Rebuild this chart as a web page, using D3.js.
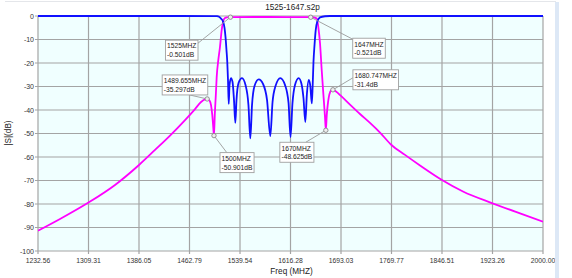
<!DOCTYPE html>
<html>
<head>
<meta charset="utf-8">
<script src="https://cdn.jsdelivr.net/npm/d3@7"></script>
<style>
  body { margin: 0; background: #fff; }
  svg text { font-family: "Liberation Sans", Arial, sans-serif; }
</style>
</head>
<body>
<div id="chart"></div>
<script>
// tick labels
const xTicks = [1232.56, 1309.31, 1386.05, 1462.79, 1539.54, 1616.28, 1693.03, 1769.77, 1846.51, 1923.26, 2000.00];
const yTicks = [0, -10, -20, -30, -40, -50, -60, -70, -80, -90, -100];

// |S21| (magenta)
const s21Freq = [1232.56, 1266.0, 1309.3, 1349.6, 1386.05, 1410.4, 1433.2, 1456.0, 1471.2, 1480.3, 1486.4, 1489.655,
  1493.2, 1495.5, 1497.4, 1499.0, 1500, 1501.2, 1502.8, 1504.1, 1506.6, 1509.1, 1511.7, 1514.2, 1516.7, 1519.8, 1525,
  1540, 1560, 1585, 1610, 1635, 1647, 1656.1, 1658.5, 1661.1, 1663.7, 1666.1, 1668.7, 1670, 1671.4, 1672.8, 1674.5,
  1676.6, 1678.6, 1680.747, 1685.4, 1693.0, 1706.7, 1721.9, 1737.1, 1752.3, 1769.77, 1790.3, 1813.1, 1846.51, 1878.4,
  1923.26, 1965.1, 2000];
const s21dB = [-91.4, -86.4, -79.4, -71.9, -63.4, -57.0, -50.9, -44.3, -39.6, -36.6, -35.45, -35.297,
  -36.0, -37.9, -42.1, -47.7, -50.901, -42.1, -33.6, -26.0, -18.7, -13.2, -6.0, -2.1, -0.9, -0.6, -0.501,
  -0.46, -0.43, -0.42, -0.44, -0.48, -0.521, -1.0, -4.6, -11.5, -23.0, -32.8, -42.9, -48.625, -42.1, -37.9, -34.5,
  -32.3, -31.5, -31.4, -32.1, -34.0, -37.7, -41.7, -45.5, -49.6, -54.9, -59.1, -63.6, -69.8, -74.7,
  -79.7, -84.0, -87.5];

// |S11| (blue)
const s11Freq = [1232.56, 1400, 1500, 1504.6, 1507.6, 1510.7, 1513.7, 1516.0, 1517.5, 1519.0, 1520.2, 1521.3, 1522.4,
  1523.6, 1525.9, 1528.2, 1530.4, 1532.4, 1534.2, 1537.3, 1542.6, 1547.9, 1552.4, 1555.2, 1557.8, 1561.6, 1568.0,
  1574.5, 1580.6, 1585.6, 1589.0, 1593.5, 1600.8, 1608.0, 1613.3, 1616.3, 1619.3, 1623.1, 1628.7, 1633.0, 1636.0,
  1638.8, 1641.1, 1644.1, 1646.4, 1648.7, 1650.0, 1651.2, 1652.8, 1654.6, 1657.0, 1661.1, 1668.7, 1676.3, 1800, 2000];
const s11dB = [0, 0, -0.02, -0.08, -0.3, -1.1, -2.3, -5.1, -8.9, -14.5, -19.6, -27.2, -37.4,
  -29.4, -26.4, -28.1, -35.7, -45.5, -35.7, -28.5, -26.4, -29.4, -37.9, -52.1, -37.9, -29.8, -27.0,
  -28.9, -35.7, -51.1, -36.6, -29.8, -26.4, -29.4, -37.0, -51.5, -37.0, -29.4, -26.4, -28.9, -34.9,
  -45.1, -33.6, -27.2, -29.8, -37.2, -29.4, -19.6, -12.3, -6.0, -2.4, -0.6, -0.1, 0, 0, 0];

// markers
const markerFreq = [1525, 1647, 1489.655, 1680.747, 1500, 1670];
const markerDb = [-0.501, -0.521, -35.297, -31.4, -50.901, -48.625];
const markerLabel = ["1525MHZ", "1647MHZ", "1489.655MHZ", "1680.747MHZ", "1500MHZ", "1670MHZ"];
const markerValue = ["-0.501dB", "-0.521dB", "-35.297dB", "-31.4dB", "-50.901dB", "-48.625dB"];

// callout box layout: offset of box from marker, and where the leader meets the box
const calloutLayout = [
  {dx: -65, dy: 23, ax: 1, ay: 0.15},
  {dx: 42, dy: 21, ax: 0, ay: 0.05},
  {dx: -45, dy: -24, ax: 0.6, ay: 1},
  {dx: 20, dy: -20, ax: 0, ay: 0.4},
  {dx: 6, dy: 17, ax: 0.2, ay: 0},
  {dx: -46, dy: 12, ax: 0.76, ay: 0}
];

const W = 572, H = 278;
const margin = {top: 16, right: 29, bottom: 27, left: 38};
const width = W - margin.left - margin.right,
    height = H - margin.top - margin.bottom;

const svg = d3.select("#chart").append("svg")
    .attr("width", W)
    .attr("height", H);

// outer frame bits
svg.append("line")
    .attr("x1", 5).attr("x2", 556).attr("y1", 1.5).attr("y2", 1.5)
    .attr("stroke", "#e4e6ea").attr("stroke-width", 1);

const g = svg.append("g")
    .attr("transform", "translate(" + margin.left + "," + margin.top + ")");

const x = d3.scaleLinear().domain([xTicks[0], xTicks[xTicks.length - 1]]).range([0, width]);
const y = d3.scaleLinear().domain([-100, 0]).range([height, 0]);

g.append("rect")
    .attr("width", width).attr("height", height)
    .attr("fill", "#f0ffff");

// grid
g.append("g")
    .selectAll("line")
    .data(xTicks)
    .join("line")
    .attr("x1", d => x(d)).attr("x2", d => x(d))
    .attr("y1", 0).attr("y2", height + 3)
    .attr("stroke", "#a4a4a4").attr("stroke-width", 1.2);
g.append("g")
    .selectAll("line")
    .data(yTicks)
    .join("line")
    .attr("x1", -3).attr("x2", width)
    .attr("y1", d => y(d)).attr("y2", d => y(d))
    .attr("stroke", "#a4a4a4").attr("stroke-width", 1.2);

// tick labels
g.append("g")
    .selectAll("text")
    .data(xTicks)
    .join("text")
    .attr("x", d => x(d))
    .attr("y", height + 12)
    .attr("text-anchor", "middle")
    .attr("font-size", 6.8)
    .attr("fill", "#333")
    .text(d => d.toFixed(2));
g.append("g")
    .selectAll("text")
    .data(yTicks)
    .join("text")
    .attr("x", -4)
    .attr("y", d => y(d) + 2.5)
    .attr("text-anchor", "end")
    .attr("font-size", 7)
    .attr("fill", "#333")
    .text(d => d);

// axis titles
svg.append("text")
    .attr("x", margin.left + width / 2 + 1)
    .attr("y", 274)
    .attr("text-anchor", "middle")
    .attr("font-size", 8.2)
    .attr("fill", "#222")
    .text("Freq (MHZ)");
svg.append("text")
    .attr("transform", "translate(11,133) rotate(-90)")
    .attr("text-anchor", "middle")
    .attr("font-size", 8.2)
    .attr("fill", "#222")
    .text("|S|(dB)");
svg.append("text")
    .attr("x", margin.left + width / 2 + 2)
    .attr("y", 10)
    .attr("text-anchor", "middle")
    .attr("font-size", 8.2)
    .attr("fill", "#222")
    .text("1525-1647.s2p");

// curves
g.append("clipPath").attr("id", "plotclip")
    .append("rect").attr("x", 0).attr("y", -1).attr("width", width).attr("height", height + 1);

const line = d3.line()
    .x(d => x(d[0]))
    .y(d => y(d[1]))
    .curve(d3.curveMonotoneX);

const s21 = s21Freq.map((f, i) => [f, s21dB[i]]);
const s11 = s11Freq.map((f, i) => [f, s11dB[i]]);

const curves = g.append("g").attr("clip-path", "url(#plotclip)");
curves.append("path")
    .attr("d", line(s21))
    .attr("fill", "none")
    .attr("stroke", "#ff00ff")
    .attr("stroke-width", 1.8);
curves.append("path")
    .attr("d", line(s11))
    .attr("fill", "none")
    .attr("stroke", "#1010ff")
    .attr("stroke-width", 1.8);

// markers and callouts
const markers = markerFreq.map((f, i) => ({
  f: f, db: markerDb[i], l1: markerLabel[i], l2: markerValue[i], lay: calloutLayout[i]
}));

const pad = 1.6, boxH = 20;
const callouts = g.append("g");
markers.forEach(m => {
  const mx = x(m.f), my = y(m.db);
  const bx = mx + m.lay.dx, by = my + m.lay.dy;
  const grp = callouts.append("g");
  const lead = grp.append("line")
      .attr("x1", mx).attr("y1", my)
      .attr("stroke", "#9a9a9a").attr("stroke-width", 0.9);
  const box = grp.append("rect")
      .attr("x", bx).attr("y", by).attr("height", boxH)
      .attr("fill", "#fff")
      .attr("stroke", "#a0a0a0").attr("stroke-width", 0.9);
  const t1 = grp.append("text")
      .attr("x", bx + pad).attr("y", by + 8.3)
      .attr("font-size", 6.7).attr("fill", "#222")
      .text(m.l1);
  const t2 = grp.append("text")
      .attr("x", bx + pad).attr("y", by + 17.2)
      .attr("font-size", 6.7).attr("fill", "#222")
      .text(m.l2);
  const bw = Math.max(t1.node().getComputedTextLength(), t2.node().getComputedTextLength()) + 2 * pad;
  box.attr("width", bw);
  lead.attr("x2", bx + m.lay.ax * bw).attr("y2", by + m.lay.ay * boxH);
  grp.append("circle")
      .attr("cx", mx).attr("cy", my).attr("r", 2.2)
      .attr("fill", "#eee")
      .attr("stroke", "#888").attr("stroke-width", 0.9);
});

// right edge strip of the panel
svg.append("rect")
    .attr("x", 555).attr("y", 2).attr("width", 4).attr("height", H - 2)
    .attr("fill", "#dde8f6");
</script>
</body>
</html>
